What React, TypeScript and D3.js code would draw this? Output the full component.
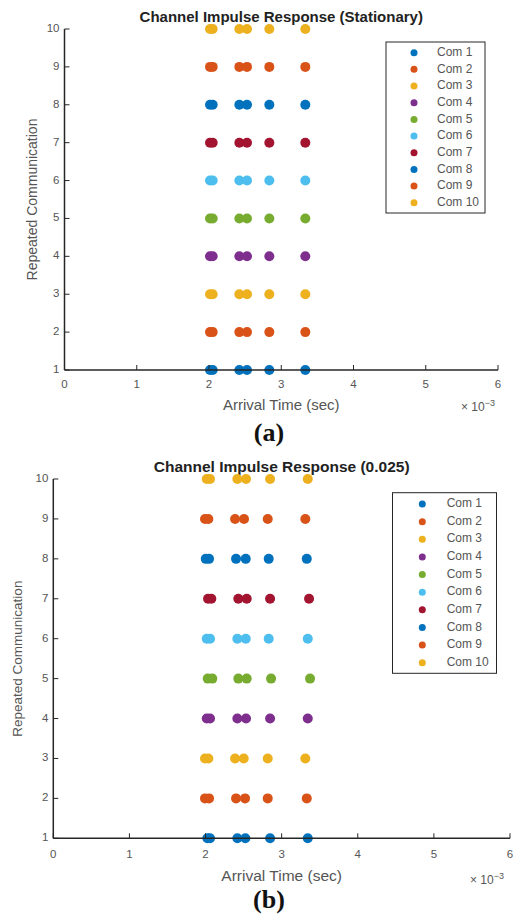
import React from "react";
import * as d3 from "d3";

const comLabels = ["Com 1", "Com 2", "Com 3", "Com 4", "Com 5", "Com 6", "Com 7", "Com 8", "Com 9", "Com 10"];
const comColors = ["#0072BD", "#D95319", "#EDB120", "#7E2F8E", "#77AC30", "#4DBEEE", "#A2142F", "#0072BD", "#D95319", "#EDB120"];
const xTicks = [0, 1, 2, 3, 4, 5, 6];
const yTicks = [1, 2, 3, 4, 5, 6, 7, 8, 9, 10];

// arrival times in units of 1e-3 s, one row per repeated communication
const stationaryTimes = [
  [2.014, 2.051, 2.42, 2.526, 2.835, 3.333],
  [2.014, 2.051, 2.42, 2.526, 2.835, 3.333],
  [2.014, 2.051, 2.42, 2.526, 2.835, 3.333],
  [2.014, 2.051, 2.42, 2.526, 2.835, 3.333],
  [2.014, 2.051, 2.42, 2.526, 2.835, 3.333],
  [2.014, 2.051, 2.42, 2.526, 2.835, 3.333],
  [2.014, 2.051, 2.42, 2.526, 2.835, 3.333],
  [2.014, 2.051, 2.42, 2.526, 2.835, 3.333],
  [2.014, 2.051, 2.42, 2.526, 2.835, 3.333],
  [2.014, 2.051, 2.42, 2.526, 2.835, 3.333],
];
const mobileTimes = [
  [2.024, 2.059, 2.418, 2.523, 2.848, 3.343],
  [1.993, 2.046, 2.401, 2.519, 2.817, 3.33],
  [1.993, 2.037, 2.388, 2.502, 2.817, 3.311],
  [2.016, 2.059, 2.418, 2.532, 2.848, 3.343],
  [2.029, 2.089, 2.431, 2.541, 2.861, 3.373],
  [2.016, 2.059, 2.418, 2.528, 2.83, 3.343],
  [2.033, 2.076, 2.431, 2.541, 2.848, 3.36],
  [2.003, 2.046, 2.401, 2.528, 2.83, 3.33],
  [1.993, 2.037, 2.388, 2.506, 2.817, 3.311],
  [2.016, 2.059, 2.418, 2.532, 2.848, 3.343],
];

const FONT = "Liberation Sans, Arial, sans-serif";

type PanelProps = {
  title: string;
  times: number[][];
  x0: number; x1: number; yTop: number; yBot: number;
  titleY: number; titleSize: number;
  yLabelX: number; yLabelSize: number; xLabelY: number; xLabelSize: number; tickLabelY: number;
  expX: number; expY: number;
  legend: { x: number; y: number; w: number; h: number; mx: number; tx: number; firstY: number; step: number };
  caption: string; captionY: number;
};

function Panel(p: PanelProps) {
  const x = d3.scaleLinear().domain([0, 6]).range([p.x0, p.x1]);
  const y = d3.scaleLinear().domain([1, 10]).range([p.yBot, p.yTop]);
  const axisColor = "#262626";
  const tickColor = "#555";
  const cx = (p.x0 + p.x1) / 2;
  return (
    <g>
      <text x={cx} y={p.titleY} textAnchor="middle" fontFamily={FONT} fontWeight="bold" fontSize={p.titleSize} fill="#222">{p.title}</text>
      {p.times.map((row, i) => (
        <g key={i}>
          {row.map((t, j) => (
            <circle key={j} cx={x(t)} cy={y(i + 1)} r={5} fill={comColors[i]} />
          ))}
        </g>
      ))}
      <line x1={x(0)} x2={x(6)} y1={y(1)} y2={y(1)} stroke={axisColor} strokeWidth={1.5} />
      <line x1={x(0)} x2={x(0)} y1={y(1)} y2={y(10)} stroke={axisColor} strokeWidth={1.5} />
      {xTicks.map((t) => (
        <g key={t}>
          <line x1={x(t)} x2={x(t)} y1={y(1)} y2={y(1) - 5} stroke={axisColor} strokeWidth={1} />
          <text x={x(t)} y={p.tickLabelY} textAnchor="middle" dominantBaseline="middle" fontFamily={FONT} fontSize={11.5} fill={tickColor}>{t}</text>
        </g>
      ))}
      {yTicks.map((t) => (
        <g key={t}>
          <line x1={x(0)} x2={x(0) + 5} y1={y(t)} y2={y(t)} stroke={axisColor} strokeWidth={1} />
          <text x={x(0) - 5} y={y(t)} textAnchor="end" dominantBaseline="middle" fontFamily={FONT} fontSize={11.5} fill={tickColor}>{t}</text>
        </g>
      ))}
      <text x={cx} y={p.xLabelY} textAnchor="middle" dominantBaseline="middle" fontFamily={FONT} fontSize={p.xLabelSize} fill={tickColor}>Arrival Time (sec)</text>
      <text transform={`translate(${p.yLabelX},${(p.yTop + p.yBot) / 2}) rotate(-90)`} textAnchor="middle" dominantBaseline="middle" fontFamily={FONT} fontSize={p.yLabelSize} fill={tickColor}>Repeated Communication</text>
      <text x={p.expX} y={p.expY} fontFamily={FONT} fontSize={12} fill={tickColor}>
        × 10<tspan fontSize={9} dy={-5}>−3</tspan>
      </text>
      <rect x={p.legend.x} y={p.legend.y} width={p.legend.w} height={p.legend.h} fill="white" stroke={axisColor} strokeWidth={1} />
      {comLabels.map((lab, i) => (
        <g key={lab}>
          <circle cx={p.legend.mx} cy={p.legend.firstY + i * p.legend.step} r={3.5} fill={comColors[i]} />
          <text x={p.legend.tx} y={p.legend.firstY + i * p.legend.step} dominantBaseline="middle" fontFamily={FONT} fontSize={12} fill={tickColor}>{lab}</text>
        </g>
      ))}
      <text x={269} y={p.captionY} textAnchor="middle" fontFamily="Liberation Serif, Times New Roman, serif" fontWeight="bold" fontSize={26} fill="#111">{p.caption}</text>
    </g>
  );
}

export default function App() {
  return (
    <svg width={513} height={915} style={{ position: "absolute", left: 0, top: 0, background: "white" }}>
      <rect width={513} height={915} fill="white" />
      <Panel
        title="Channel Impulse Response (Stationary)" times={stationaryTimes}
        x0={64.5} x1={498} yTop={29} yBot={370}
        titleY={22} titleSize={15}
        yLabelX={33} yLabelSize={14} xLabelY={406} xLabelSize={15} tickLabelY={385}
        expX={461} expY={411}
        legend={{ x: 386, y: 42, w: 99, h: 171, mx: 414, tx: 437, firstY: 52.7, step: 16.67 }}
        caption="(a)" captionY={441}
      />
      <Panel
        title="Channel Impulse Response (0.025)" times={mobileTimes}
        x0={53.3} x1={510} yTop={479} yBot={838.3}
        titleY={472} titleSize={15.5}
        yLabelX={18} yLabelSize={13.5} xLabelY={877} xLabelSize={15.5} tickLabelY={855}
        expX={470} expY={884}
        legend={{ x: 392.5, y: 492.7, w: 104, h: 180.6, mx: 422.3, tx: 446.7, firstY: 504, step: 17.63 }}
        caption="(b)" captionY={908}
      />
    </svg>
  );
}
